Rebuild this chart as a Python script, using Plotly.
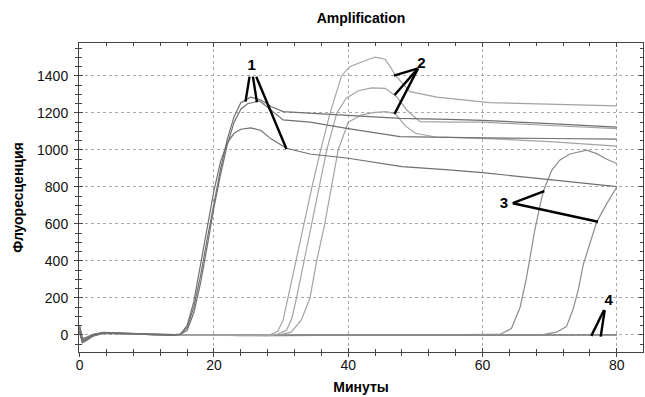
import plotly.graph_objects as go

# ---------------- data (minutes, fluorescence) ----------------
t_1a = [0,0.4,1,2,3.5,6,9,12,14,15,16,17,18,19,20,21,22,23,24,25.5,27,28.5,30.3,34.3,40,47.7,55,60,70,80]
f_1a = [35,-30,-20,0,12,10,6,2,0,5,40,150,320,520,720,900,1060,1180,1255,1285,1270,1235,1207,1198,1185,1171,1165,1160,1142,1123]

t_1b = [0,0.4,1,2,3.5,6,9,12,14,15,16,17,18,19,20,21,22,23,24,25,26.8,28,30.3,34.3,40,47.7,55,60,70,80]
f_1b = [20,-40,-28,-5,10,9,5,1,-2,3,25,120,280,480,690,870,1030,1150,1220,1250,1265,1230,1162,1150,1115,1072,1067,1065,1062,1059]

t_1c = [0,0.4,1,2,3.5,6,9,12,14,15,16,17,18,19,20,21,22,23,24,25.5,27,28.5,30.8,34.3,40,48,55,60,70,80]
f_1c = [50,-20,-12,3,14,11,7,3,1,5,50,180,370,580,780,940,1040,1090,1112,1119,1105,1060,1009,978,955,910,892,877,840,802]

t_2a = [0,0.4,1,2,3.5,6,9,12,16,20,24,27,28.5,29.5,30.3,31,32.2,33.4,34.6,35.9,37.3,39,40.2,42,44,45.5,47.2,49.2,53.2,61,70,80]
f_2a = [30,-35,-22,-2,11,9,5,2,1,0,-3,-2,4,20,80,200,400,600,800,1000,1200,1400,1450,1475,1502,1490,1396,1315,1285,1256,1248,1238]

t_2b = [0,0.4,1,2,3.5,6,9,12,16,20,24,28,29.5,30.8,31.6,32.3,33.4,34.6,35.6,36.8,38.3,39.7,41.5,43.5,45.5,47.2,48.7,50.7,55,60,70,80]
f_2b = [25,-25,-18,0,12,10,6,2,1,0,-3,-1,5,25,90,200,400,600,800,1000,1200,1280,1320,1335,1333,1288,1216,1153,1150,1150,1132,1115]

t_2c = [0,0.4,1,2,3.5,6,9,12,16,20,24,28,30,31.5,33,34.3,35.3,36.5,37.5,38.5,40,42,44,45.7,47,48.5,50,53,60,70,80]
f_2c = [40,-28,-20,-3,10,9,5,1,0,-1,-4,-3,3,15,80,200,400,600,800,1000,1150,1190,1203,1207,1195,1130,1090,1070,1063,1045,1021]

t_3a = [0,0.4,1,2,3.5,6,9,12,20,30,40,50,58,62.6,64.3,65.6,66.5,67.1,67.8,68.8,69.2,70.3,71.5,73,75.5,77,78.5,80]
f_3a = [30,-30,-20,-2,11,9,5,1,0,-2,0,1,0,3,35,150,300,420,570,740,790,890,945,978,999,980,950,927]

t_3b = [0,0.4,1,2,3.5,6,9,12,20,30,40,50,60,69,71,72.5,73.5,74.3,75,76,77,78.5,80]
f_3b = [20,-38,-25,-4,10,8,4,0,-1,-3,-1,0,1,2,15,45,140,250,380,500,610,710,800]

t_4 = [0,0.4,1,2,3.5,6,9,12,20,30,40,50,60,70,80]
f_4a = [45,-25,-15,2,13,10,6,2,0,-2,0,1,-1,0,1]
f_4b = [15,-42,-30,-6,9,8,4,0,-2,-4,-1,0,0,-1,0]

# callout labels and pointer lines
label_text = ["1", "2", "3", "4"]
label_x = [25.6, 50.9, 63.2, 78.8]
label_y = [1450, 1465, 705, 185]
ptr_x0 = [25.3, 25.8, 26.3, 50.4, 50.4, 50.4, 64.5, 64.5, 78.1, 78.2]
ptr_y0 = [1396, 1396, 1396, 1441, 1441, 1441, 712, 712, 135, 135]
ptr_x1 = [24.7, 26.4, 30.8, 46.8, 46.9, 46.9, 69.2, 77.2, 76.2, 77.6]
ptr_y1 = [1261, 1258, 1005, 1402, 1297, 1195, 778, 612, -5, -9]

x_ticks = [0, 20, 40, 60, 80]
y_ticks = [0, 200, 400, 600, 800, 1000, 1200, 1400]
x_range = [-0.1, 83.9]
y_range = [-92, 1578]

# ---------------- figure ----------------
fig = go.Figure()

curves = [
    (t_4, f_4a, "#7a7a7a"), (t_4, f_4b, "#7a7a7a"),
    (t_3a, f_3a, "#8c8c8c"), (t_3b, f_3b, "#8c8c8c"),
    (t_2a, f_2a, "#a3a3a3"), (t_2b, f_2b, "#a3a3a3"), (t_2c, f_2c, "#a3a3a3"),
    (t_1a, f_1a, "#707070"), (t_1b, f_1b, "#707070"), (t_1c, f_1c, "#707070"),
]
for tx, fy, col in curves:
    fig.add_trace(go.Scatter(x=tx, y=fy, mode="lines", line=dict(color=col, width=1.2),
                             hoverinfo="skip", showlegend=False))

for x0, y0, x1, y1 in zip(ptr_x0, ptr_y0, ptr_x1, ptr_y1):
    fig.add_trace(go.Scatter(x=[x0, x1], y=[y0, y1], mode="lines",
                             line=dict(color="black", width=2.4),
                             hoverinfo="skip", showlegend=False))

fig.add_trace(go.Scatter(x=label_x, y=label_y, mode="text", text=label_text,
                         textfont=dict(family="Liberation Sans, Arial", size=15, color="black"),
                         texttemplate="<b>%{text}</b>", hoverinfo="skip", showlegend=False))

# invisible trace for the overlay axes (outside tick halves)
fig.add_trace(go.Scatter(x=[x_range[0]], y=[y_range[0]], mode="markers", marker=dict(opacity=0),
                         xaxis="x2", yaxis="y2", hoverinfo="skip", showlegend=False))

axis_col = "#444444"
grid_col = "#a8a8a8"
fig.update_layout(
    width=645, height=397,
    margin=dict(l=79, r=2, t=43, b=45),
    plot_bgcolor="white", paper_bgcolor="white",
    font=dict(family="Liberation Sans, Arial", size=14, color="#111111"),
    title=dict(text="<b>Amplification</b>", x=0.5, xref="paper", xanchor="center",
               y=1 - 18 / 397, yanchor="middle", font=dict(size=14, color="black")),
    xaxis=dict(range=x_range, tickvals=x_ticks, ticks="inside", ticklen=4, tickcolor=axis_col,
               mirror="ticks", showline=True, linecolor=axis_col, linewidth=1, automargin=False,
               showgrid=True, gridcolor=grid_col, griddash="dot", gridwidth=1, zeroline=False,
               minor=dict(dtick=4, tick0=0, ticks="inside", ticklen=3, tickcolor=axis_col, showgrid=False),
               ticklabelstandoff=0,
               title=dict(text="<b>Минуты</b>", standoff=10, font=dict(size=14, color="black")),
               tickfont=dict(size=14)),
    yaxis=dict(range=y_range, tickvals=y_ticks, ticks="inside", ticklen=4, tickcolor=axis_col,
               mirror="ticks", showline=True, linecolor=axis_col, linewidth=1, automargin=False,
               showgrid=True, gridcolor=grid_col, griddash="dot", gridwidth=1, zeroline=False,
               minor=dict(dtick=50, tick0=0, ticks="inside", ticklen=3, tickcolor=axis_col, showgrid=False),
               ticklabelstandoff=7,
               title=dict(text="<b>Флуоресценция</b>", standoff=10, font=dict(size=14, color="black")),
               tickfont=dict(size=14)),
    xaxis2=dict(range=x_range, overlaying="x", anchor="y", side="bottom", tickvals=x_ticks,
                ticks="outside", ticklen=4, tickcolor=axis_col, showticklabels=False, automargin=False,
                showgrid=False, zeroline=False, showline=False,
                minor=dict(dtick=4, tick0=0, ticks="outside", ticklen=3, tickcolor=axis_col)),
    yaxis2=dict(range=y_range, overlaying="y", anchor="x", side="left", tickvals=y_ticks,
                ticks="outside", ticklen=4, tickcolor=axis_col, showticklabels=False, automargin=False,
                showgrid=False, zeroline=False, showline=False,
                minor=dict(dtick=50, tick0=0, ticks="outside", ticklen=3, tickcolor=axis_col)),
)

fig.write_html("out.html", config={"displayModeBar": False},
               post_script="document.body.style.margin='0';document.body.style.overflow='hidden';")
